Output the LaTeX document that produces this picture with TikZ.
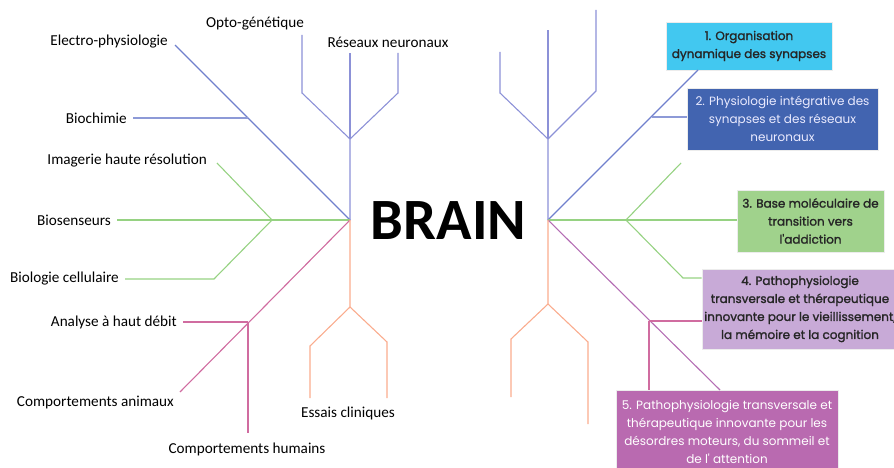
\documentclass[tikz,border=0pt]{standalone}
\usepackage{fontspec}
\setmainfont{Carlito}
\newfontfamily\boxfont{Poppins}
\newfontfamily\boxfontb{Poppins}[FakeBold=1.6]
\usetikzlibrary{positioning,calc}

\definecolor{axisblue}{RGB}{140,145,215}
\definecolor{diagblue}{RGB}{112,128,205}
\definecolor{leafgreen}{RGB}{150,210,130}
\definecolor{rosepink}{RGB}{208,108,160}
\definecolor{plum}{RGB}{180,110,180}
\definecolor{salmon}{RGB}{250,172,142}
\definecolor{cyanbox}{RGB}{66,200,240}
\definecolor{navybox}{RGB}{66,100,176}
\definecolor{greenbox}{RGB}{160,210,140}
\definecolor{lilacbox}{RGB}{200,170,215}
\definecolor{mauvebox}{RGB}{185,106,176}

\begin{document}
\begin{tikzpicture}[
    x=1pt, y=-1pt,
    font=\fontsize{15.2}{18}\selectfont,
    lbl/.style={inner sep=1pt},
    branch/.style={line width=1.1pt},
    theme/.style={draw=white!85!gray, line width=0.8pt, align=center, inner sep=0pt,
      font=\boxfont\fontsize{12}{18}\selectfont},
    boldtheme/.style={theme, font=\boxfontb\fontsize{12}{18}\selectfont, text=black!85},
    node distance=5pt
]
\useasboundingbox (0,0) rectangle (894,468);

% left tree
\coordinate (hubL) at (350,220);
\coordinate (forkL) at (350,139);
\coordinate (optoB) at (302,93);
\coordinate (optoT) at (302,35);
\coordinate (resT) at (350,53);
\coordinate (resB) at (398,93);
\coordinate (resR) at (398,53);
\coordinate (electro) at (175,45);
\coordinate (biochJ) at (248,118);
\coordinate (bioch) at (133,118);
\coordinate (gforkL) at (272,220);
\coordinate (imag) at (217,163);
\coordinate (bios) at (117,220);
\coordinate (gdown) at (214,279);
\coordinate (biol) at (125,279);
\coordinate (animal) at (180,392);
\coordinate (pjoin) at (248,322);
\coordinate (analyse) at (183,322);
\coordinate (human) at (248,433);
\coordinate (sforkL) at (350,307);
\coordinate (slL) at (310,346);
\coordinate (slLB) at (310,398);
\coordinate (srL) at (387,342);
\coordinate (srLB) at (387,398);

\node[lbl, anchor=east] (electroTxt) at (169,42) {Electro-physiologie};
\node[lbl] (optoTxt) at (255,24) {Opto-génétique};
\node[lbl] (resTxt) at (388,42) {Réseaux neuronaux};
\node[lbl, left=of bioch] (biochTxt) {Biochimie};
\node[lbl, anchor=east] (imagTxt) at (208,161) {Imagerie haute résolution};
\node[lbl, left=of bios] (biosTxt) {Biosenseurs};
\node[lbl, left=of biol] (biolTxt) {Biologie cellulaire};
\node[lbl, left=of analyse] (analyseTxt) {Analyse à haut débit};
\node[lbl, anchor=east] (animalTxt) at (175,402) {Comportements animaux};
\node[lbl] (humanTxt) at (247,449) {Comportements humains};
\node[lbl] (essaisTxt) at (348,413) {Essais cliniques};

\node[font=\bfseries\fontsize{58.5}{62}\selectfont, inner sep=0pt] (brain) at (448.5,221) {BRAIN};

\draw[branch, axisblue] (hubL) -- (forkL) -- (optoB) -- (optoT);
\draw[branch, axisblue] (forkL) -- (resT);
\draw[branch, axisblue] (forkL) -- (resB) -- (resR);
\draw[branch, diagblue] (hubL) -- (electro);
\draw[branch, diagblue!80] (biochJ) -- (bioch);
\draw[branch, leafgreen] (hubL) -- (gforkL) -- (bios);
\draw[branch, leafgreen] (gforkL) -- (imag);
\draw[branch, leafgreen] (gforkL) -- (gdown) -- (biol);
\draw[branch, rosepink] (hubL) -- (animal);
\draw[branch, rosepink] (pjoin) -- (analyse);
\draw[branch, rosepink] (pjoin) -- (human);
\draw[branch, salmon] (hubL) -- (sforkL) -- (slL) -- (slLB);
\draw[branch, salmon] (sforkL) -- (srL) -- (srLB);

% right tree
\node[boldtheme, fill=cyanbox, minimum width=166pt, minimum height=48pt] (theme1) at (749,46)
  {1. Organisation\\dynamique des synapses};
\node[theme, fill=navybox, minimum width=191pt, minimum height=62pt, text=white!92!blue] (theme2) at (782.5,119)
  {2. Physiologie intégrative des\\synapses et des réseaux\\neuronaux};
\node[boldtheme, fill=greenbox, minimum width=147pt, minimum height=62pt] (theme3) at (810.5,221)
  {3. Base moléculaire de\\transition vers\\l'addiction};
\node[boldtheme, fill=lilacbox, minimum width=196pt, minimum height=80pt] (theme4) at (800,309)
  {4. Pathophysiologie\\transversale et thérapeutique\\innovante pour le vieillissement,\\la mémoire et la cognition};
\node[theme, fill=mauvebox, minimum width=222pt, minimum height=84pt, text=white] (theme5) at (727,432)
  {5. Pathophysiologie transversale et\\thérapeutique innovante pour les\\désordres moteurs, du sommeil et\\de l' attention};

\coordinate (hubR) at (548,220);
\coordinate (forkR) at (548,139);
\coordinate (rlB) at (500,93);
\coordinate (rlT) at (500,52);
\coordinate (rmT) at (548,30);
\coordinate (rrB) at (596,91);
\coordinate (rrT) at (596,10);
\coordinate (j1) at (698,70);
\coordinate (j2) at (652,117);
\coordinate (gforkR) at (626,220);
\coordinate (gup) at (681,163);
\coordinate (gdownR) at (683,278);
\coordinate (j5) at (720,390);
\coordinate (j4) at (649,321);
\coordinate (sforkR) at (548,304);
\coordinate (slR) at (511,339);
\coordinate (slRB) at (511,397);
\coordinate (srR) at (588,342);
\coordinate (srRB) at (588,424);

\draw[branch, axisblue] (hubR) -- (forkR) -- (rlB) -- (rlT);
\draw[branch, axisblue] (forkR) -- (rmT);
\draw[branch, axisblue] (forkR) -- (rrB) -- (rrT);
\draw[branch, diagblue] (hubR) -- (j1);
\draw[branch, diagblue!80] (j2) -- (j2 -| theme2.west);
\draw[branch, leafgreen] (hubR) -- (hubR -| theme3.west);
\draw[branch, leafgreen] (gforkR) -- (gup);
\draw[branch, leafgreen] (gforkR) -- (gdownR) -- (gdownR -| theme4.west);
\draw[branch, plum] (hubR) -- (j5);
\draw[branch, rosepink] (j4) -- (j4 -| theme4.west);
\draw[branch, rosepink] (j4) -- (j4 |- theme5.north);
\draw[branch, salmon] (hubR) -- (sforkR) -- (slR) -- (slRB);
\draw[branch, salmon] (sforkR) -- (srR) -- (srRB);
\end{tikzpicture}
\end{document}
